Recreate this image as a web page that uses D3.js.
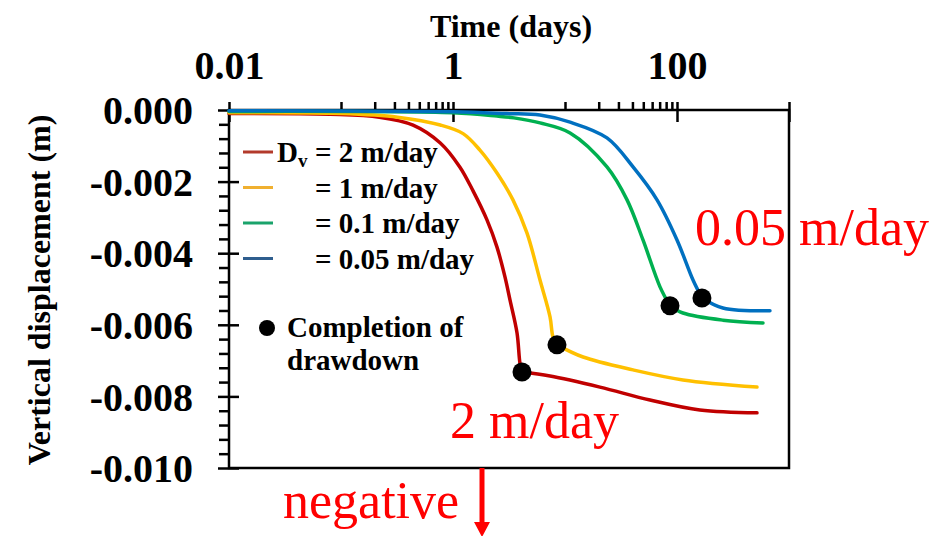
<!DOCTYPE html>
<html>
<head>
<meta charset="utf-8">
<script src="https://cdn.jsdelivr.net/npm/d3@7"></script>
<style>
	body { margin: 0; background: #fff; }
	text { font-family: "Liberation Serif", "Times New Roman", serif; }
	.bold { font-weight: bold; }
</style>
</head>
<body>
<svg class="chart" width="947" height="536"></svg>
<script>
// values
var seriesNames = ["2 m/day", "1 m/day", "0.1 m/day", "0.05 m/day"];
var seriesColors = ["#c00000", "#ffc000", "#00b050", "#0070c0"];
var legendColors = ["#b33a2b", "#f0b030", "#1aa36b", "#2f5e8e"];

var tRed = [0.01, 0.08, 0.22, 0.44, 0.77, 1.15, 1.51, 2.01, 2.47, 2.91, 3.23, 3.73, 3.96, 4.13, 7.35, 20.5, 57.4, 160, 518];
var vRed = [-0.0001, -0.00012, -0.0002, -0.00042, -0.00092, -0.00159, -0.00226, -0.00307, -0.00383, -0.00466, -0.00531, -0.00623, -0.00707, -0.00732, -0.00743, -0.00774, -0.0081, -0.00838, -0.00846];

var tYellow = [0.01, 0.1, 0.32, 0.77, 1.23, 1.74, 2.47, 3.43, 4.58, 5.98, 7.35, 7.81, 8.48, 14.5, 40.5, 113, 518];
var vYellow = [-0.00008, -0.0001, -0.0002, -0.00042, -0.00066, -0.00112, -0.00176, -0.00251, -0.00344, -0.00475, -0.00578, -0.00634, -0.00656, -0.0069, -0.00726, -0.00754, -0.00774];

var tGreen = [0.01, 1, 2.47, 3.5, 5.98, 11.1, 23.7, 35.8, 49.7, 70.5, 86.6, 113, 257, 586];
var vGreen = [-0.00004, -0.00008, -0.00017, -0.00022, -0.00036, -0.00064, -0.00159, -0.00251, -0.00363, -0.00494, -0.00547, -0.00567, -0.00587, -0.00595];

var tBlue = [0.01, 1, 3, 5.98, 11.1, 23.7, 40.5, 66.3, 100, 139, 167, 257, 676];
var vBlue = [-0.00002, -0.00005, -0.0001, -0.00014, -0.00034, -0.00078, -0.00159, -0.00251, -0.00363, -0.00475, -0.00525, -0.00553, -0.00561];

// completion of drawdown (index into each series)
var dotIndex = [13, 12, 10, 10];

var xMajor = [0.01, 1, 100, 1000];
var xMajorLabels = ["0.01", "1", "100", ""];
var xMinor = [0.1, 0.2, 0.3, 0.4, 0.5, 0.6, 0.7, 0.8, 0.9, 10, 20, 30, 40, 50, 60, 70, 80, 90];
var yMajor = [0, -0.002, -0.004, -0.006, -0.008, -0.010];
var yMajorLabels = ["0.000", "-0.002", "-0.004", "-0.006", "-0.008", "-0.010"];

var times = [tRed, tYellow, tGreen, tBlue];
var values = [vRed, vYellow, vGreen, vBlue];

var x = d3.scaleLog()
	.domain([0.01, 1000])
	.range([229, 789]);

var y = d3.scaleLinear()
	.domain([0, -0.010])
	.range([110, 468]);

var yMinor = d3.range(0, 26).map(function(i) { return -i * 0.0004; })
	.filter(function(d) { return Math.round(d * 10000) % 20 != 0; });

var chart = d3.select(".chart");

// frame
chart.append("rect")
	.attr("x", x(0.01))
	.attr("y", y(0))
	.attr("width", x(1000) - x(0.01))
	.attr("height", y(-0.010) - y(0))
	.style("fill", "none")
	.style("stroke", "#000")
	.style("stroke-width", 2.5);

// top axis
var topMajor = chart.append("g")
	.attr("transform", "translate(0," + y(0) + ")")
	.call(d3.axisTop(x)
		.tickValues(xMajor)
		.tickFormat(function(d, i) { return xMajorLabels[i]; })
		.tickSize(8)
		.tickPadding(23));

var topMinor = chart.append("g")
	.attr("transform", "translate(0," + y(0) + ")")
	.call(d3.axisTop(x)
		.tickValues(xMinor)
		.tickFormat("")
		.tickSize(8));

topMajor.selectAll(".tick line").attr("y1", 12);

// left axis
var leftMajor = chart.append("g")
	.attr("transform", "translate(" + x(0.01) + ",0)")
	.call(d3.axisLeft(y)
		.tickValues(yMajor)
		.tickFormat(function(d, i) { return yMajorLabels[i]; })
		.tickSize(11)
		.tickPadding(25));

var leftMinor = chart.append("g")
	.attr("transform", "translate(" + x(0.01) + ",0)")
	.call(d3.axisLeft(y)
		.tickValues(yMinor)
		.tickFormat("")
		.tickSize(10));

leftMajor.selectAll(".tick line").attr("x1", 10);

chart.selectAll(".domain").remove();
chart.selectAll(".tick line")
	.style("stroke", "#000")
	.style("stroke-width", 2.5);

topMajor.selectAll(".tick text")
	.attr("class", "bold")
	.style("font-family", "'Liberation Serif', 'Times New Roman', serif")
	.style("font-size", "40px")
	.style("fill", "#000");

leftMajor.selectAll(".tick text")
	.attr("class", "bold")
	.attr("dy", "0.34em")
	.style("font-family", "'Liberation Serif', 'Times New Roman', serif")
	.style("font-size", "40px")
	.style("fill", "#000");

// titles
chart.append("text")
	.attr("class", "bold")
	.attr("x", 511)
	.attr("y", 37)
	.style("text-anchor", "middle")
	.style("font-size", "32px")
	.text("Time (days)");

chart.append("text")
	.attr("class", "bold")
	.attr("transform", "translate(50,290) rotate(-90)")
	.style("text-anchor", "middle")
	.style("font-size", "32px")
	.text("Vertical displacement (m)");

// curves: one piece before and one after the completion of drawdown
var line = d3.line()
	.x(function(d) { return x(d[0]); })
	.y(function(d) { return y(d[1]); })
	.curve(d3.curveCatmullRom.alpha(0.5));

var seriesData = times.map(function(ts, i) {
	return ts.map(function(t, j) { return [t, values[i][j]]; });
});

var pieces = [];
seriesData.forEach(function(d, i) {
	pieces.push({i: i, pts: d.slice(0, dotIndex[i] + 1)});
	pieces.push({i: i, pts: d.slice(dotIndex[i])});
});

chart.selectAll(".curve")
	.data(pieces)
.enter().append("path")
	.attr("class", "curve")
	.attr("d", function(d) { return line(d.pts); })
	.style("fill", "none")
	.style("stroke", function(d) { return seriesColors[d.i]; })
	.style("stroke-width", 3.5)
	.style("stroke-linecap", "round")
	.style("stroke-linejoin", "round");

chart.selectAll(".dot")
	.data(seriesData)
.enter().append("circle")
	.attr("class", "dot")
	.attr("cx", function(d, i) { return x(d[dotIndex[i]][0]); })
	.attr("cy", function(d, i) { return y(d[dotIndex[i]][1]); })
	.attr("r", 9.5)
	.style("fill", "#000");

// legend
var legend = chart.selectAll(".legend")
	.data(seriesNames)
.enter().append("g")
	.attr("class", "legend")
	.attr("transform", function(d, i) { return "translate(0," + (152 + i * 35.5) + ")"; });

legend.append("line")
	.attr("x1", 243)
	.attr("x2", 273)
	.style("stroke", function(d, i) { return legendColors[i]; })
	.style("stroke-width", 3);

legend.append("text")
	.attr("class", "bold")
	.attr("x", 315)
	.attr("y", 10)
	.style("font-size", "29px")
	.text(function(d) { return "= " + d; });

var dv = chart.append("text")
	.attr("class", "bold")
	.attr("x", 277)
	.attr("y", 162)
	.style("font-size", "29px");
dv.append("tspan").text("D");
dv.append("tspan")
	.attr("dy", 5)
	.style("font-size", "19px")
	.text("v");

chart.append("circle")
	.attr("cx", 267)
	.attr("cy", 328)
	.attr("r", 8)
	.style("fill", "#000");

chart.append("text")
	.attr("class", "bold")
	.attr("x", 287)
	.attr("y", 337)
	.style("font-size", "29px")
	.text("Completion of");

chart.append("text")
	.attr("class", "bold")
	.attr("x", 287)
	.attr("y", 370)
	.style("font-size", "29px")
	.text("drawdown");

// red notes
var notes = [
	{text: "2 m/day", x: 450, y: 438},
	{text: "0.05 m/day", x: 695, y: 245},
	{text: "negative", x: 283, y: 518}
];

chart.selectAll(".note")
	.data(notes)
.enter().append("text")
	.attr("class", "note")
	.attr("x", function(d) { return d.x; })
	.attr("y", function(d) { return d.y; })
	.style("font-size", "52px")
	.style("fill", "#ff0000")
	.text(function(d) { return d.text; });

chart.append("line")
	.attr("x1", 482)
	.attr("x2", 482)
	.attr("y1", 468)
	.attr("y2", 524)
	.style("stroke", "#ff0000")
	.style("stroke-width", 5);

chart.append("path")
	.attr("d", "M474,522L490,522L482,537Z")
	.style("fill", "#ff0000");
</script>
</body>
</html>
